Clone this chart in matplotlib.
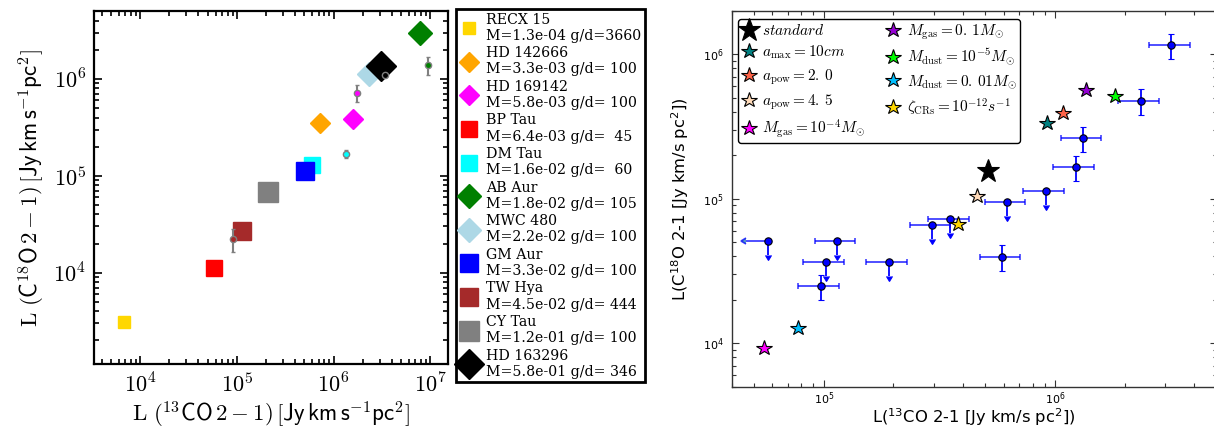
import matplotlib
matplotlib.use('Agg')
import matplotlib.pyplot as plt
from matplotlib.ticker import LogLocator, NullFormatter

plt.rcParams['mathtext.fontset'] = 'cm'

# ---------------- Left panel data ----------------
disk_names = ['RECX 15', 'HD 142666', 'HD 169142', 'BP Tau', 'DM Tau', 'AB Aur',
              'MWC 480', 'GM Aur', 'TW Hya', 'CY Tau', 'HD 163296']
disk_mass = [1.3e-4, 3.3e-3, 5.8e-3, 6.4e-3, 1.6e-2, 1.8e-2, 2.2e-2, 3.3e-2, 4.5e-2, 1.2e-1, 5.8e-1]
disk_gd = [3660, 100, 100, 45, 60, 105, 100, 100, 444, 100, 346]
disk_13co = [6.7e3, 7.3e5, 1.6e6, 5.8e4, 5.93e5, 7.76e6, 2.32e6, 5.1e5, 1.13e5, 2.1e5, 3.08e6]
disk_c18o = [3.1e3, 3.54e5, 3.9e5, 1.13e4, 1.28e5, 3.0e6, 1.13e6, 1.11e5, 2.71e4, 6.73e4, 1.36e6]
disk_colors = ['gold', 'orange', 'magenta', 'red', 'cyan', 'green', 'lightblue',
               'blue', 'brown', 'gray', 'black']
disk_markers = ['s', 'D', 'D', 's', 's', 'D', 'D', 's', 's', 's', 'D']
disk_msize = [8.2, 9.8, 10.6, 11.2, 12.2, 11.8, 11.8, 13.0, 13.2, 14.0, 14.8]

obs_colors = ['brown', 'cyan', 'magenta', 'black', 'green']
obs_13co = [9.0e4, 1.35e6, 1.74e6, 3.37e6, 9.6e6]
obs_c18o = [2.24e4, 1.68e5, 7.2e5, 1.09e6, 1.39e6]
obs_c18o_err = [6.0e3, 1.5e4, 1.4e5, 3.0e4, 2.8e5]

# ---------------- Right panel data ----------------
model_labels = [r'$standard$', r'$a_{\rm max}=10cm$', r'$a_{\rm pow}=2.\,0$',
                r'$a_{\rm pow}=4.\,5$', r'$M_{\rm gas}=10^{-4}M_{\odot}$',
                r'$M_{\rm gas}=0.\,1M_{\odot}$', r'$M_{\rm dust}=10^{-5}M_{\odot}$',
                r'$M_{\rm dust}=0.\,01M_{\odot}$', r'$\zeta_{\rm CRs}=10^{-12}s^{-1}$']
model_13co = [5.13e5, 9.18e5, 1.08e6, 4.61e5, 5.53e4, 1.36e6, 1.81e6, 7.76e4, 3.8e5]
model_c18o = [1.57e5, 3.36e5, 3.95e5, 1.05e5, 9.33e3, 5.67e5, 5.13e5, 1.27e4, 6.73e4]
model_colors = ['black', 'teal', 'tomato', 'peachpuff', 'magenta', 'darkviolet',
                'lime', 'deepskyblue', 'gold']

lup_13co = [5.76e4, 1.14e5, 1.02e5, 9.7e4, 1.91e5, 2.94e5, 3.53e5, 6.2e5, 9.1e5,
            5.9e5, 1.23e6, 1.32e6, 2.34e6, 3.18e6]
lup_c18o = [5.13e4, 5.13e4, 3.66e4, 2.48e4, 3.66e4, 6.58e4, 7.3e4, 9.5e4, 1.14e5,
            3.98e4, 1.65e5, 2.62e5, 4.79e5, 1.16e6]
lup_13co_err = [1.15e4, 2.28e4, 2.04e4, 1.94e4, 3.82e4, 5.88e4, 7.06e4, 1.24e5, 1.82e5,
                1.18e5, 2.46e5, 2.64e5, 4.68e5, 6.36e5]
lup_c18o_err = [1.03e4, 1.03e4, 7.3e3, 5.0e3, 7.3e3, 1.32e4, 1.46e4, 1.9e4, 2.28e4,
                8.0e3, 3.3e4, 5.2e4, 9.6e4, 2.32e5]
lup_c18o_limit = [True, True, True, False, True, True, True, True, True,
                  False, False, False, False, False]
lup_13co_limit = [True] + [False] * 13

W, H = 1214, 430
fig = plt.figure(figsize=(W / 100, H / 100), dpi=100)

# ================= Left panel =================
axL = fig.add_axes([94.3 / W, 1 - 364.3 / H, (448.3 - 94.3) / W, (364.3 - 11) / H])
handles = []
labels = []
for i in range(len(disk_names)):
    h, = axL.plot(disk_13co[i], disk_c18o[i], ls='none', marker=disk_markers[i],
                  ms=disk_msize[i], color=disk_colors[i], mec=disk_colors[i], zorder=3)
    handles.append(h)
    labels.append('%s\nM=%.1e g/d=%4i' % (disk_names[i], disk_mass[i], disk_gd[i]))

for i in range(len(obs_13co)):
    axL.errorbar(obs_13co[i], obs_c18o[i], yerr=obs_c18o_err[i], fmt='o', ms=4.5,
                 color=obs_colors[i], mec='gray', mew=1.0, ecolor='gray',
                 elinewidth=1.5, capsize=1.5, capthick=1.2, zorder=5)

axL.set_xscale('log')
axL.set_yscale('log')
axL.set_xlim(3340, 1.54e7)
axL.set_ylim(1133, 5.03e6)
for sp in axL.spines.values():
    sp.set_linewidth(1.6)
axL.set_xticks([1e4, 1e5, 1e6, 1e7], [r'$10^{4}$', r'$10^{5}$', r'$10^{6}$', r'$10^{7}$'],
               fontsize=16)
axL.set_yticks([1e4, 1e5, 1e6], [r'$10^{4}$', r'$10^{5}$', r'$10^{6}$'], fontsize=16)
axL.xaxis.set_minor_locator(LogLocator(base=10, subs=range(2, 10), numticks=20))
axL.yaxis.set_minor_locator(LogLocator(base=10, subs=range(2, 10), numticks=20))
axL.xaxis.set_minor_formatter(NullFormatter())
axL.yaxis.set_minor_formatter(NullFormatter())
axL.tick_params(which='both', direction='in', top=True, right=True, width=1.2)
axL.tick_params(which='major', length=6, pad=6)
axL.tick_params(which='minor', length=3.5)
axL.set_xlabel(r'$\mathrm{L}\ (^{13}\mathsf{CO}\,2-1)\,[\mathsf{Jy\,km\,s}^{-1}\mathsf{pc}^{2}]$',
               fontsize=16.5, labelpad=2)
axL.set_ylabel(r'$\mathrm{L}\ (\mathsf{C}^{18}\mathsf{O}\,2-1)\,[\mathsf{Jy\,km\,s}^{-1}\mathsf{pc}^{2}]$',
               fontsize=16.5, labelpad=5)

legL = fig.legend(handles, labels, loc='upper left', bbox_to_anchor=(456 / W, 1 - 9 / H),
                  prop={'family': 'DejaVu Serif', 'size': 10.2}, numpoints=1,
                  frameon=True, fancybox=False, edgecolor='black', framealpha=1,
                  labelspacing=0.24, handlelength=1.4, handletextpad=0.45,
                  borderpad=0.25, borderaxespad=0)
legL.get_frame().set_linewidth(2.0)

# ================= Right panel =================
x0, x1, y0, y1 = 731.7, 1216.8, 11, 386.7
axR = fig.add_axes([x0 / W, 1 - y1 / H, (x1 - x0) / W, (y1 - y0) / H])

star_handles = []
for i in range(len(model_labels)):
    ms = 17 if i == 0 else 11.5
    h, = axR.plot(model_13co[i], model_c18o[i], ls='none', marker='*', ms=ms,
                  color=model_colors[i], mec='black', mew=0.8, zorder=6)
    star_handles.append(h)

axR.errorbar(lup_13co, lup_c18o, xerr=lup_13co_err, xuplims=lup_13co_limit, fmt='none',
             ecolor='blue', elinewidth=1.3, capsize=2.5, capthick=1.2, alpha=0.75, zorder=3)
axR.errorbar(lup_13co, lup_c18o, yerr=lup_c18o_err, uplims=lup_c18o_limit, fmt='o',
             ms=5.3, color='blue', mec='black', mew=0.8, ecolor='blue', elinewidth=1.3,
             capsize=2.5, capthick=1.2, zorder=4)

axR.set_xscale('log')
axR.set_yscale('log')
axR.set_xlim(4e4, 5e6)
axR.set_ylim(5e3, 2e6)
for sp in axR.spines.values():
    sp.set_linewidth(1.0)
    sp.set_color('#333333')
axR.set_xticks([1e5, 1e6], [r'$10^{5}$', r'$10^{6}$'], fontsize=8, math_fontfamily='dejavusans')
axR.set_yticks([1e4, 1e5, 1e6], [r'$10^{4}$', r'$10^{5}$', r'$10^{6}$'], fontsize=8,
               math_fontfamily='dejavusans')
axR.xaxis.set_minor_locator(LogLocator(base=10, subs=range(2, 10), numticks=20))
axR.yaxis.set_minor_locator(LogLocator(base=10, subs=range(2, 10), numticks=20))
axR.xaxis.set_minor_formatter(NullFormatter())
axR.yaxis.set_minor_formatter(NullFormatter())
axR.tick_params(which='both', direction='in', top=True, right=True, width=0.8, color='#333333')
axR.tick_params(which='major', length=5)
axR.tick_params(which='minor', length=3)
axR.tick_params(axis='x', which='major', pad=3)
axR.tick_params(axis='y', which='major', pad=6)
axR.set_xlabel(r'L($^{13}$CO 2-1 [Jy km/s pc$^{2}$])', fontsize=11.8, labelpad=-1,
               math_fontfamily='dejavusans')
axR.set_ylabel(r'L(C$^{18}$O 2-1 [Jy km/s pc$^{2}$])', fontsize=11.8, labelpad=8,
               math_fontfamily='dejavusans')

legR = axR.legend(star_handles, model_labels, loc='upper left',
                  bbox_to_anchor=((738 - x0) / (x1 - x0), 1 - (19 - y0) / (y1 - y0)),
                  ncol=2, numpoints=1, fontsize=11, frameon=True, fancybox=True,
                  edgecolor='black', framealpha=1, labelspacing=0.38, handlelength=1.0,
                  handletextpad=0.4, borderpad=0.2, columnspacing=1.3, borderaxespad=0)
legR.get_frame().set_linewidth(1.0)

fig.savefig('out.png', dpi=100)
